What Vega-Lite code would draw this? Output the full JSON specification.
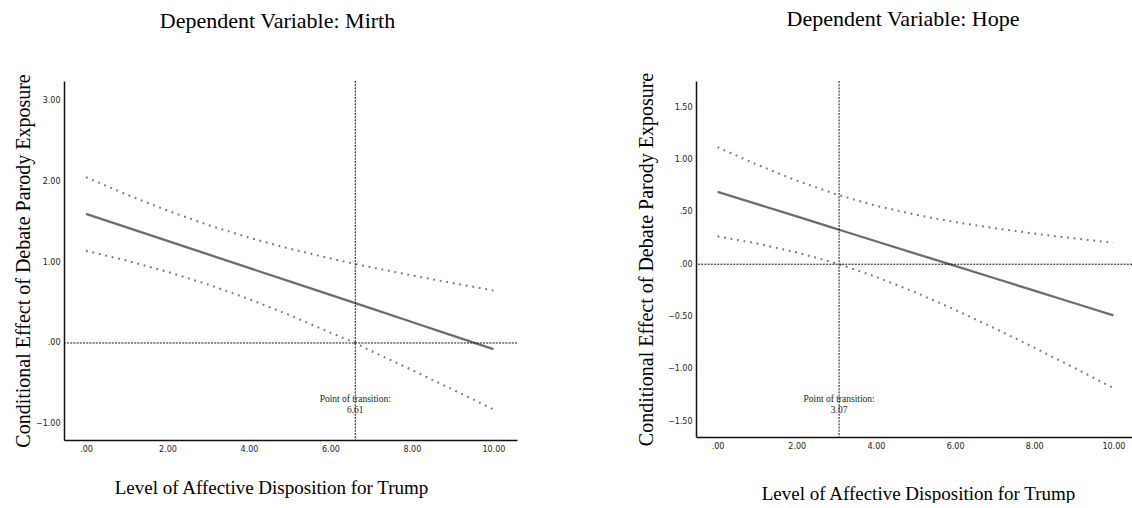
{
  "$schema": "https://vega.github.io/schema/vega-lite/v6.json",
  "background": "white",
  "padding": {"left": 13, "top": 8, "right": 0, "bottom": 0},
  "spacing": 118,
  "config": {
    "view": {"stroke": null},
    "font": "Liberation Serif",
    "title": {"font": "Liberation Serif", "fontSize": 22, "fontWeight": "normal", "color": "#000", "anchor": "middle", "frame": "group"},
    "axis": {"grid": false, "ticks": false, "domainColor": "#111", "domainWidth": 1.5, "labelFont": "DejaVu Sans", "labelFontSize": 8, "labelColor": "#222", "labelPadding": 5, "titleFont": "Liberation Serif", "titleFontWeight": "normal", "titleColor": "#000"},
    "axisY": {"labelPadding": 4, "titleFontSize": 20},
    "axisX": {"titleFontSize": 19}
  },
  "datasets": {
    "mirth": [
      {"x": 0, "est": 1.597, "lower": 1.14, "upper": 2.05},
      {"x": 1, "est": 1.43, "lower": 1.019, "upper": 1.835},
      {"x": 2, "est": 1.263, "lower": 0.881, "upper": 1.637},
      {"x": 3, "est": 1.095, "lower": 0.723, "upper": 1.459},
      {"x": 4, "est": 0.928, "lower": 0.544, "upper": 1.302},
      {"x": 5, "est": 0.761, "lower": 0.344, "upper": 1.166},
      {"x": 6, "est": 0.594, "lower": 0.128, "upper": 1.046},
      {"x": 6.61, "est": 0.492, "lower": 0.0, "upper": 0.975},
      {"x": 7, "est": 0.427, "lower": -0.099, "upper": 0.937},
      {"x": 8, "est": 0.259, "lower": -0.334, "upper": 0.836},
      {"x": 9, "est": 0.092, "lower": -0.575, "upper": 0.741},
      {"x": 10, "est": -0.075, "lower": -0.82, "upper": 0.65}
    ],
    "hope": [
      {"x": 0, "est": 0.693, "lower": 0.267, "upper": 1.12},
      {"x": 1, "est": 0.575, "lower": 0.198, "upper": 0.952},
      {"x": 2, "est": 0.457, "lower": 0.113, "upper": 0.8},
      {"x": 3, "est": 0.338, "lower": 0.008, "upper": 0.668},
      {"x": 3.07, "est": 0.33, "lower": 0.0, "upper": 0.66},
      {"x": 4, "est": 0.22, "lower": -0.12, "upper": 0.56},
      {"x": 5, "est": 0.102, "lower": -0.27, "upper": 0.474},
      {"x": 6, "est": -0.016, "lower": -0.436, "upper": 0.403},
      {"x": 7, "est": -0.134, "lower": -0.613, "upper": 0.344},
      {"x": 8, "est": -0.253, "lower": -0.798, "upper": 0.293},
      {"x": 9, "est": -0.371, "lower": -0.989, "upper": 0.248},
      {"x": 10, "est": -0.489, "lower": -1.184, "upper": 0.206}
    ],
    "mirthT": [{"transition": 6.61, "label": "Point of transition:\n6.61"}],
    "hopeT": [{"transition": 3.07, "label": "Point of transition:\n3.07"}]
  },
  "hconcat": [
    {
      "width": 453,
      "height": 359,
      "title": {"text": "Dependent Variable: Mirth", "offset": 41, "dx": -13},
      "layer": [
        {
          "data": {"name": "mirth"},
          "encoding": {
            "x": {"field": "x", "type": "quantitative", "scale": {"domain": [-0.54, 10.58], "nice": false, "zero": false},
                  "axis": {"values": [0, 2, 4, 6, 8, 10], "title": "Level of Affective Disposition for Trump", "titleX": 207, "titlePadding": 25,
                           "labelExpr": "replace(format(datum.value, '.2f'), regexp('^(-?)0[.]'), '$1.')"}}
          },
          "layer": [
            {"mark": {"type": "line", "color": "#777", "strokeWidth": 2, "strokeDash": [1.8, 4.8]},
             "encoding": {"y": {"field": "upper", "type": "quantitative", "scale": {"domain": [-1.2, 3.24], "nice": false, "zero": false},
                                "axis": {"values": [-1, 0, 1, 2, 3], "title": "Conditional Effect of Debate Parody Exposure", "titlePadding": 2,
                                         "labelExpr": "replace(format(datum.value, '.2f'), regexp('^(-?)0[.]'), '$1.')"}}}},
            {"mark": {"type": "line", "color": "#777", "strokeWidth": 2, "strokeDash": [1.8, 4.8]},
             "encoding": {"y": {"field": "lower", "type": "quantitative"}}},
            {"mark": {"type": "line", "color": "#6e6e6e", "strokeWidth": 2.3},
             "encoding": {"y": {"field": "est", "type": "quantitative"}}}
          ]
        },
        {
          "data": {"name": "mirthT"},
          "layer": [
            {"mark": {"type": "rule", "color": "#111", "strokeWidth": 1, "strokeDash": [2, 1.2]},
             "encoding": {"x": {"field": "transition", "type": "quantitative"}}},
            {"mark": {"type": "rule", "color": "#111", "strokeWidth": 1, "strokeDash": [2, 1.2]},
             "encoding": {"y": {"datum": 0}}},
            {"mark": {"type": "text", "lineBreak": "\n", "font": "Liberation Serif", "fontSize": 9.5, "color": "#222", "align": "center", "baseline": "middle", "lineHeight": 11},
             "encoding": {"x": {"field": "transition", "type": "quantitative"}, "y": {"datum": -0.69}, "text": {"field": "label"}}}
          ]
        }
      ]
    },
    {
      "width": 436,
      "height": 356,
      "title": {"text": "Dependent Variable: Hope", "offset": 41, "dx": -11},
      "layer": [
        {
          "data": {"name": "hope"},
          "encoding": {
            "x": {"field": "x", "type": "quantitative", "scale": {"domain": [-0.545, 10.47], "nice": false, "zero": false},
                  "axis": {"values": [0, 2, 4, 6, 8, 10], "title": "Level of Affective Disposition for Trump", "titleX": 222, "titlePadding": 34,
                           "labelExpr": "replace(format(datum.value, '.2f'), regexp('^(-?)0[.]'), '$1.')"}}
          },
          "layer": [
            {"mark": {"type": "line", "color": "#777", "strokeWidth": 2, "strokeDash": [1.8, 4.8]},
             "encoding": {"y": {"field": "upper", "type": "quantitative", "scale": {"domain": [-1.653, 1.753], "nice": false, "zero": false},
                                "axis": {"values": [-1.5, -1, -0.5, 0, 0.5, 1, 1.5], "title": "Conditional Effect of Debate Parody Exposure", "titlePadding": 11,
                                         "labelExpr": "replace(format(datum.value, '.2f'), regexp('^(-?)0[.]'), '$1.')"}}}},
            {"mark": {"type": "line", "color": "#777", "strokeWidth": 2, "strokeDash": [1.8, 4.8]},
             "encoding": {"y": {"field": "lower", "type": "quantitative"}}},
            {"mark": {"type": "line", "color": "#6e6e6e", "strokeWidth": 2.3},
             "encoding": {"y": {"field": "est", "type": "quantitative"}}}
          ]
        },
        {
          "data": {"name": "hopeT"},
          "layer": [
            {"mark": {"type": "rule", "color": "#111", "strokeWidth": 1, "strokeDash": [2, 1.2]},
             "encoding": {"x": {"field": "transition", "type": "quantitative"}}},
            {"mark": {"type": "rule", "color": "#111", "strokeWidth": 1, "strokeDash": [2, 1.2]},
             "encoding": {"y": {"datum": 0}}},
            {"mark": {"type": "text", "lineBreak": "\n", "font": "Liberation Serif", "fontSize": 9.5, "color": "#222", "align": "center", "baseline": "middle", "lineHeight": 11},
             "encoding": {"x": {"field": "transition", "type": "quantitative"}, "y": {"datum": -1.286}, "text": {"field": "label"}}}
          ]
        }
      ]
    }
  ]
}
